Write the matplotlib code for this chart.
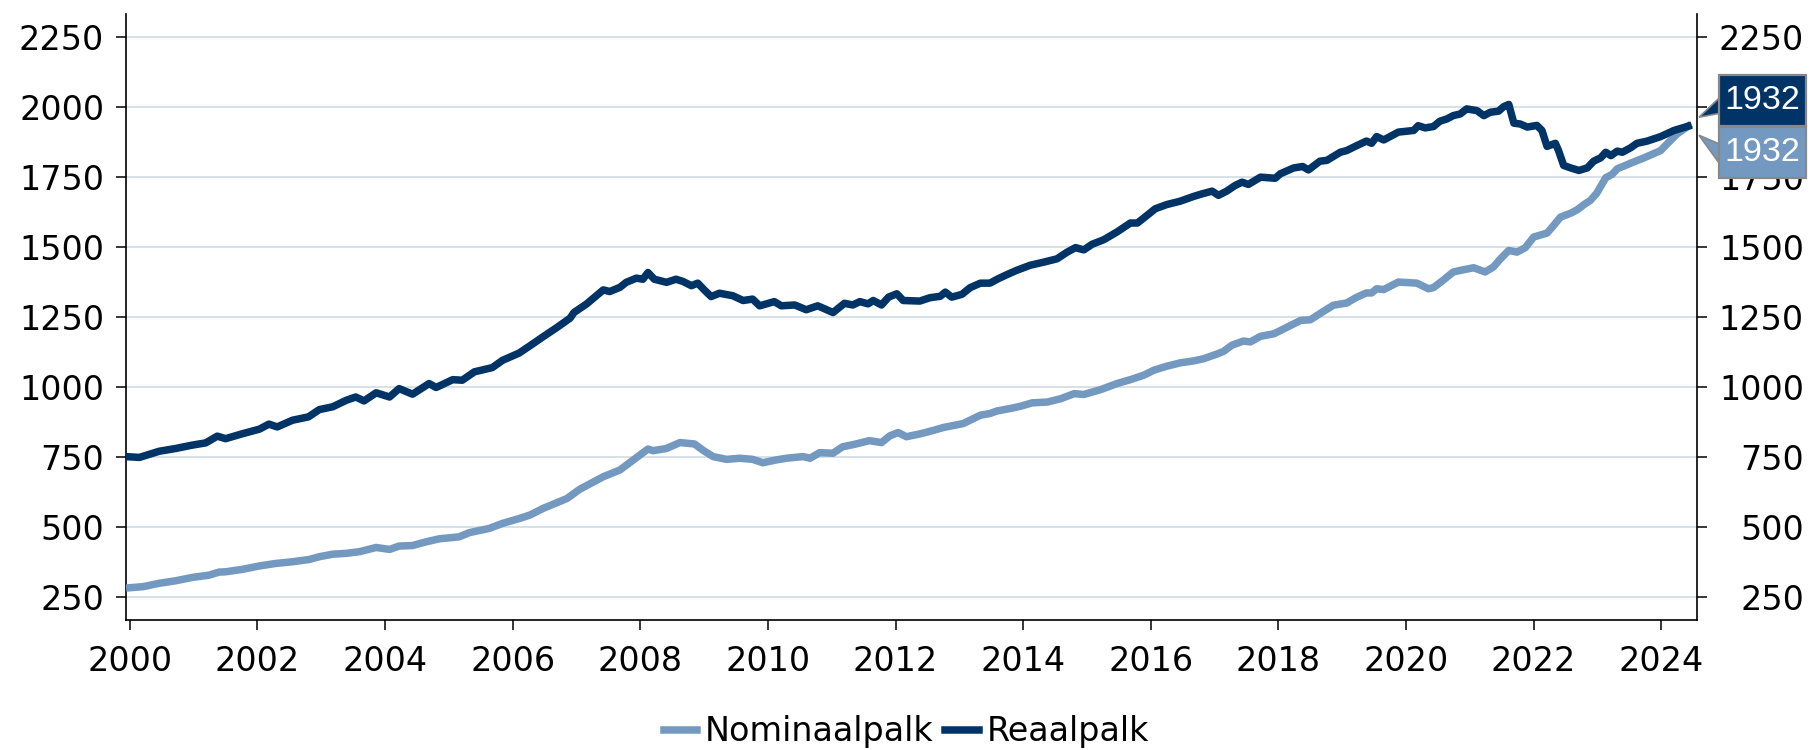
import matplotlib
matplotlib.use("Agg")
import matplotlib.pyplot as plt
from matplotlib.patches import Rectangle, Polygon

# ── data (decimal year, index value) ─────────────────────────────────────────
real_years = [
    2000.00, 2000.15, 2000.46, 2000.72, 2000.98, 2001.19, 2001.37, 2001.50, 2001.77, 2002.03,
    2002.18, 2002.31, 2002.55, 2002.80, 2002.97, 2003.18, 2003.39, 2003.54, 2003.67, 2003.86,
    2004.07, 2004.22, 2004.43, 2004.69, 2004.80, 2005.06, 2005.21, 2005.40, 2005.68, 2005.84,
    2006.10, 2006.27, 2006.48, 2006.69, 2006.90, 2006.96, 2007.16, 2007.42, 2007.52, 2007.68,
    2007.78, 2007.94, 2008.04, 2008.12, 2008.22, 2008.41, 2008.56, 2008.67, 2008.80, 2008.90,
    2009.01, 2009.11, 2009.24, 2009.45, 2009.61, 2009.76, 2009.87, 2010.10, 2010.21, 2010.42,
    2010.60, 2010.78, 2011.02, 2011.20, 2011.33, 2011.44, 2011.57, 2011.65, 2011.78, 2011.89,
    2012.02, 2012.12, 2012.38, 2012.54, 2012.70, 2012.78, 2012.88, 2013.04, 2013.17, 2013.33,
    2013.48, 2013.61, 2013.75, 2013.90, 2014.11, 2014.32, 2014.53, 2014.69, 2014.82, 2014.95,
    2015.08, 2015.26, 2015.47, 2015.68, 2015.79, 2015.94, 2016.07, 2016.25, 2016.46, 2016.67,
    2016.80, 2016.96, 2017.06, 2017.19, 2017.32, 2017.43, 2017.53, 2017.72, 2017.95, 2018.03,
    2018.24, 2018.38, 2018.47, 2018.65, 2018.76, 2018.97, 2019.07, 2019.23, 2019.38, 2019.46,
    2019.54, 2019.65, 2019.88, 2020.12, 2020.19, 2020.30, 2020.43, 2020.53, 2020.64, 2020.74,
    2020.85, 2020.95, 2021.11, 2021.22, 2021.32, 2021.45, 2021.53, 2021.61, 2021.69, 2021.79,
    2021.90, 2022.05, 2022.13, 2022.21, 2022.34, 2022.39, 2022.47, 2022.58, 2022.71, 2022.84,
    2022.94, 2023.05, 2023.13, 2023.21, 2023.31, 2023.39, 2023.52, 2023.62, 2023.78, 2023.99,
    2024.20, 2024.42,
]
real_values = [
    750, 748, 770, 780, 792, 800, 824, 815, 833, 849,
    867, 857, 881, 893, 919, 929, 952, 964, 950, 979,
    964, 994, 974, 1012, 998, 1026, 1024, 1054, 1069, 1095,
    1121, 1147, 1180, 1212, 1246, 1266, 1297, 1347, 1341, 1356,
    1374, 1389, 1385, 1409, 1385, 1374, 1385, 1377, 1362, 1371,
    1345, 1323, 1335, 1326, 1309, 1314, 1290, 1305, 1290, 1293,
    1276, 1290, 1266, 1299, 1293, 1305, 1297, 1309, 1293, 1321,
    1333, 1309, 1307, 1319, 1324, 1339, 1321, 1331, 1355, 1371,
    1371, 1387, 1402, 1417, 1435, 1446, 1458, 1482, 1498, 1490,
    1510, 1526, 1554, 1586, 1586, 1613, 1637, 1652, 1664, 1681,
    1690, 1700, 1685, 1700, 1720, 1732, 1724, 1750, 1746, 1762,
    1783, 1788, 1776, 1807, 1810, 1839, 1845, 1863, 1879, 1871,
    1895, 1883, 1911, 1917, 1934, 1926, 1931, 1950, 1958, 1970,
    1976, 1994, 1988, 1970, 1982, 1986, 2002, 2010, 1943, 1940,
    1929, 1935, 1917, 1860, 1871, 1845, 1792, 1783, 1774, 1783,
    1807, 1819, 1839, 1827, 1843, 1839, 1855, 1871, 1879, 1895,
    1917, 1932,
]

nominal_years = [
    2000.00, 2000.21, 2000.46, 2000.72, 2000.98, 2001.24, 2001.40, 2001.50, 2001.77, 2002.03,
    2002.29, 2002.55, 2002.81, 2002.97, 2003.18, 2003.39, 2003.60, 2003.86, 2004.07, 2004.22,
    2004.43, 2004.64, 2004.85, 2005.16, 2005.32, 2005.63, 2005.84, 2006.11, 2006.27, 2006.48,
    2006.85, 2007.05, 2007.42, 2007.68, 2007.89, 2008.12, 2008.20, 2008.41, 2008.62, 2008.85,
    2008.98, 2009.14, 2009.35, 2009.56, 2009.76, 2009.92, 2010.13, 2010.29, 2010.55, 2010.66,
    2010.81, 2011.02, 2011.17, 2011.38, 2011.59, 2011.78, 2011.91, 2012.04, 2012.17, 2012.38,
    2012.60, 2012.75, 2012.86, 2013.06, 2013.33, 2013.48, 2013.59, 2013.80, 2013.96, 2014.14,
    2014.38, 2014.59, 2014.80, 2014.95, 2015.21, 2015.47, 2015.68, 2015.89, 2016.05, 2016.25,
    2016.46, 2016.67, 2016.83, 2017.03, 2017.14, 2017.27, 2017.45, 2017.56, 2017.72, 2017.93,
    2018.14, 2018.35, 2018.50, 2018.65, 2018.86, 2019.07, 2019.23, 2019.38, 2019.46, 2019.54,
    2019.65, 2019.88, 2020.17, 2020.35, 2020.43, 2020.59, 2020.74, 2020.90, 2021.06, 2021.24,
    2021.37, 2021.48, 2021.61, 2021.74, 2021.87, 2022.00, 2022.21, 2022.29, 2022.42, 2022.58,
    2022.68, 2022.79, 2022.89, 2022.99, 2023.13, 2023.23, 2023.31, 2023.44, 2023.52, 2023.73,
    2023.99, 2024.10, 2024.25, 2024.42,
]
nominal_values = [
    282, 286, 298, 307, 319, 327, 338, 339, 348, 360,
    369, 375, 383, 393, 402, 405, 411, 426, 419, 431,
    433, 446, 457, 464, 479, 494, 512, 530, 542, 566,
    601, 634, 679, 703, 739, 778, 772, 780, 801, 796,
    774, 751, 741, 745, 741, 729, 739, 745, 751, 745,
    765, 763, 786, 796, 808, 801, 825, 837, 822, 832,
    845, 855, 860, 869, 899, 905, 914, 923, 931, 943,
    946, 958, 976, 973, 990, 1012, 1026, 1042, 1060, 1074,
    1086, 1093, 1101, 1117, 1127, 1149, 1164, 1161, 1181, 1190,
    1214, 1238, 1240, 1262, 1292, 1300, 1321, 1336, 1336, 1351,
    1348, 1375, 1371, 1351, 1355, 1383, 1411, 1419, 1426, 1411,
    1429, 1458, 1488, 1482, 1498, 1536, 1550, 1571, 1607, 1621,
    1633, 1652, 1667, 1693, 1748, 1760, 1780, 1792, 1800, 1819,
    1845, 1871, 1905, 1932,
]

x_ticks = list(range(2000, 2025, 2))
y_ticks = [250, 500, 750, 1000, 1250, 1500, 1750, 2000, 2250]

DARK = "#003366"
LIGHT = "#7399C0"
GRID = "#D3DEE4"
W, H = 1813, 750
# ─────────────────────────────────────────────────────────────────────────────

plt.rcParams["font.family"] = ["DejaVu Sans"]
plt.rcParams["font.size"] = 24

fig = plt.figure(figsize=(W / 100, H / 100), dpi=100)
ax = fig.add_axes([126 / W, 1 - 620 / H, (1697 - 126) / W, (620 - 14) / H])

ax.plot(nominal_years, nominal_values, color=LIGHT, lw=5.4, label="Nominaalpalk",
        solid_joinstyle="round", zorder=3)
ax.plot(real_years, real_values, color=DARK, lw=5.4, label="Reaalpalk",
        solid_joinstyle="round", zorder=3)

ax.set_xlim(1999.94, 2024.56)
ax.set_ylim(166.7, 2333.3)
ax.set_xticks(x_ticks)
ax.set_yticks(y_ticks)
ax.yaxis.grid(True, color=GRID, lw=1.3)
ax.set_axisbelow(True)

for s in ["top", "right"]:
    ax.spines[s].set_visible(False)
for s in ["left", "bottom"]:
    ax.spines[s].set_linewidth(1.2)
ax.tick_params(axis="both", direction="out", length=7.2, width=1.1, labelsize=24)
ax.tick_params(axis="x", pad=10.5)
ax.tick_params(axis="y", pad=8.5)

# right-hand axis, labels right-aligned at the figure edge
ax2 = ax.twinx()
ax2.set_ylim(ax.get_ylim())
ax2.set_yticks(y_ticks)
for s in ["top", "left", "bottom"]:
    ax2.spines[s].set_visible(False)
ax2.spines["right"].set_linewidth(1.2)
ax2.tick_params(axis="y", direction="out", length=7.2, width=1.1, labelsize=24, pad=69.8)
for lab in ax2.get_yticklabels():
    lab.set_horizontalalignment("right")

fig.legend(loc="center", bbox_to_anchor=(0.5, 0.024), ncol=2, frameon=False,
           fontsize=24, handlelength=1.0, handletextpad=0.25, columnspacing=0.35)

# end-of-series value boxes
x_end, y_end = ax.transData.transform((ax.get_xlim()[1], nominal_values[-1]))
tip_x = x_end + 2
box_x0, box_x1 = 1719, 1806
for off, color, value, base_top, base_bot, tip_dy in [
    (26, DARK, real_values[-1], 29, 13, 9),
    (-26, LIGHT, nominal_values[-1], -18, -38, -9),
]:
    cy = y_end + off
    fig.add_artist(Polygon(
        [(tip_x / W, (y_end + tip_dy) / H), ((box_x0 + 1) / W, (y_end + base_top) / H),
         ((box_x0 + 1) / W, (y_end + base_bot) / H)],
        closed=True, facecolor=color, edgecolor="#888888", lw=1.2,
        transform=fig.transFigure, zorder=5))
    fig.add_artist(Rectangle(
        (box_x0 / W, (cy - 25.5) / H), (box_x1 - box_x0) / W, 51 / H,
        facecolor=color, edgecolor="#888888", lw=1.6,
        transform=fig.transFigure, zorder=6))
    fig.text((box_x0 + box_x1) / 2 / W, cy / H, f"{value:.0f}", color="white",
             ha="center", va="center", fontsize=24.5, family=["Liberation Sans"], zorder=7)

fig.savefig("out.png", dpi=100)
